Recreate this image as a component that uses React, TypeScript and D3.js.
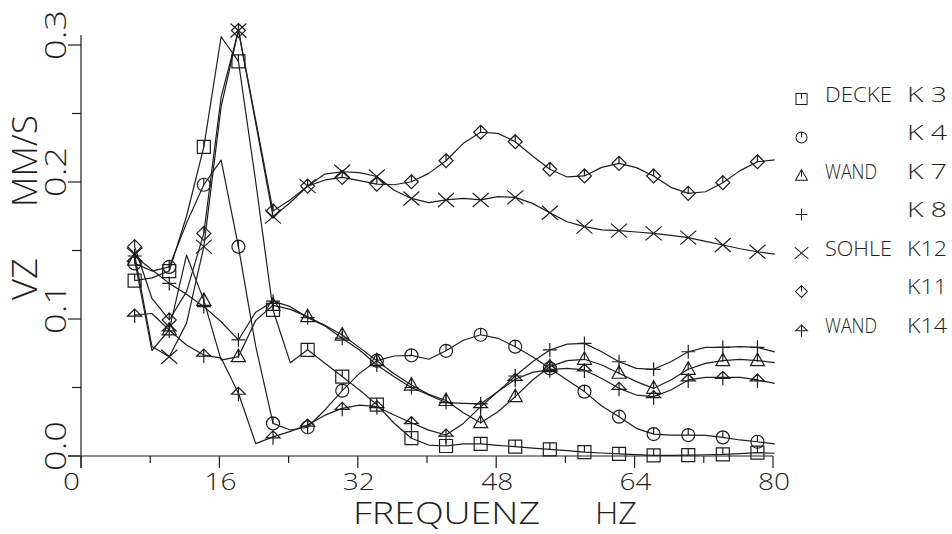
import React from "react";
import * as d3 from "d3";

// frequencies (Hz) of the plotted points (2 Hz steps; a symbol on every second point)
const FREQ = [6.2, 8.2, 10.2, 12.2, 14.2, 16.2, 18.2, 20.2, 22.2, 24.2, 26.2, 28.2, 30.2, 32.2, 34.2, 36.2, 38.2, 40.2, 42.2, 44.2, 46.2, 48.2, 50.2, 52.2, 54.2, 56.2, 58.2, 60.2, 62.2, 64.2, 66.2, 68.2, 70.2, 72.2, 74.2, 76.2, 78.2, 80.2];

// VZ (mm/s) per channel
const K3 = [0.128, 0.13, 0.135, 0.175, 0.2256, 0.306, 0.288, 0.2, 0.1066, 0.068, 0.0775, 0.0677, 0.058, 0.0482, 0.0375, 0.0239, 0.013, 0.008, 0.0073, 0.0088, 0.0088, 0.0078, 0.0068, 0.0058, 0.0049, 0.0039, 0.0029, 0.0022, 0.0015, 0.001, 0.0005, 0.0005, 0.0007, 0.0009, 0.0012, 0.0018, 0.0024, 0.002];
const K4 = [0.1406, 0.135, 0.138, 0.17, 0.198, 0.216, 0.1528, 0.08, 0.0238, 0.019, 0.021, 0.0336, 0.0477, 0.0603, 0.0696, 0.073, 0.0735, 0.0706, 0.0768, 0.0845, 0.0885, 0.0859, 0.0798, 0.0725, 0.064, 0.0555, 0.047, 0.0365, 0.0287, 0.0202, 0.016, 0.0153, 0.0153, 0.015, 0.0136, 0.0117, 0.0104, 0.0088];
const K7 = [0.143, 0.077, 0.092, 0.1467, 0.1136, 0.07, 0.0725, 0.099, 0.11, 0.107, 0.1017, 0.0955, 0.0883, 0.0791, 0.0696, 0.06, 0.0518, 0.045, 0.0405, 0.0316, 0.0243, 0.0323, 0.0433, 0.0555, 0.0652, 0.0696, 0.0706, 0.0664, 0.0604, 0.0543, 0.0494, 0.0555, 0.0633, 0.0676, 0.0696, 0.0706, 0.0696, 0.0681];
const K8 = [0.146, 0.136, 0.126, 0.118, 0.109, 0.098, 0.0847, 0.105, 0.113, 0.109, 0.101, 0.0949, 0.086, 0.0774, 0.0664, 0.0579, 0.05, 0.0445, 0.039, 0.0384, 0.038, 0.047, 0.0584, 0.0688, 0.0774, 0.0817, 0.0822, 0.0761, 0.0688, 0.064, 0.0633, 0.0688, 0.0761, 0.0793, 0.0793, 0.0798, 0.0793, 0.076];
const K12 = [0.147, 0.08, 0.0725, 0.097, 0.1528, 0.255, 0.3106, 0.243, 0.1747, 0.185, 0.197, 0.2058, 0.2075, 0.2068, 0.204, 0.194, 0.188, 0.185, 0.1869, 0.188, 0.1869, 0.1893, 0.1888, 0.1844, 0.1776, 0.171, 0.1674, 0.165, 0.1645, 0.1635, 0.1625, 0.161, 0.1594, 0.1567, 0.154, 0.1513, 0.1491, 0.1474];
const K11 = [0.1528, 0.115, 0.0993, 0.12, 0.1625, 0.262, 0.3106, 0.245, 0.1788, 0.187, 0.197, 0.2015, 0.2034, 0.201, 0.1985, 0.198, 0.2002, 0.2063, 0.2155, 0.2282, 0.2363, 0.2355, 0.2294, 0.219, 0.2093, 0.2037, 0.2044, 0.2107, 0.2136, 0.2105, 0.2044, 0.1961, 0.1917, 0.1929, 0.1995, 0.2083, 0.2148, 0.2161];
const K14 = [0.1029, 0.104, 0.092, 0.081, 0.0737, 0.0715, 0.0458, 0.009, 0.014, 0.018, 0.0226, 0.0298, 0.0348, 0.0372, 0.036, 0.0299, 0.0243, 0.0189, 0.0153, 0.0238, 0.036, 0.047, 0.056, 0.061, 0.063, 0.064, 0.0628, 0.0566, 0.0494, 0.0445, 0.0433, 0.0482, 0.0555, 0.0574, 0.0574, 0.0574, 0.0555, 0.053];

const SERIES_VALUES = [K3, K4, K7, K8, K12, K11, K14];
const SERIES_SYMBOL = ["square", "circle", "triangle", "plus", "x", "diamond", "arrow"];
const LEGEND_GROUP = ["DECKE", "", "WAND", "", "SOHLE", "", "WAND"];
const LEGEND_ID = ["K 3", "K 4", "K 7", "K 8", "K12", "K11", "K14"];

const X_TICKS = [0, 16, 32, 48, 64, 80];
const X_MINOR = [8, 24, 40, 56, 72];
const Y_TICKS = [0, 0.1, 0.2, 0.3];
const Y_LABELS = ["0.0", "0.1", "0.2", "0.3"];
const Y_MINOR = [0.05, 0.15, 0.25];

const INK = "#1e1e1e";
const FONT = "'Open Sans', 'DejaVu Sans', sans-serif";

function Symbol({ type, x, y, s = 1 }: { type: string; x: number; y: number; s?: number }) {
  let d = "";
  switch (type) {
    case "square":
      d = "M-6.5,-6.5H6.5V6.5H-6.5Z M0,-6.5V0";
      break;
    case "circle":
      d = "M-6.5,0A6.5,6.5 0 1,0 6.5,0A6.5,6.5 0 1,0 -6.5,0 M0,-6.5V0";
      break;
    case "triangle":
      d = "M0,-7.5L7,5H-7Z M0,-7.5V1";
      break;
    case "plus":
      d = "M-7,0H7 M0,-7V7";
      break;
    case "x":
      d = "M-8,-7L8,7 M-8,7L8,-7";
      break;
    case "diamond":
      d = "M0,-7L7,0L0,7L-7,0Z M0,-7V0";
      break;
    case "arrow":
      d = "M-7,1L0,-6L7,1Z M0,-6V8";
      break;
  }
  return (
    <path d={d} transform={`translate(${x},${y}) scale(${s})`} fill="none" stroke={INK} strokeWidth={1.2} />
  );
}

export default function App() {
  const W = 952;
  const H = 534;
  const x = d3.scaleLinear().domain([0, 80]).range([81, 773]);
  const y = d3.scaleLinear().domain([0, 0.3]).range([456, 45]);

  const line = d3
    .line<[number, number]>()
    .x((d) => x(d[0]))
    .y((d) => y(d[1]))
    .curve(d3.curveLinear);

  return (
    <svg width={W} height={H} style={{ position: "absolute", left: 0, top: 0, background: "#fff" }}>
      <rect width={W} height={H} fill="#fff" />
      {/* axes */}
      <g stroke={INK} strokeWidth={1.2} fill="none">
        <line x1={x(0) - 13} x2={x(80)} y1={y(0)} y2={y(0)} />
        <line x1={x(0)} x2={x(0)} y1={y(0) + 12} y2={y(0.3) - 10} />
        {X_TICKS.map((t) => (
          <line key={"xt" + t} x1={x(t)} x2={x(t)} y1={y(0)} y2={y(0) + 12} />
        ))}
        {X_MINOR.map((t) => (
          <line key={"xm" + t} x1={x(t)} x2={x(t)} y1={y(0)} y2={y(0) + 7} />
        ))}
        {Y_TICKS.map((t) => (
          <line key={"yt" + t} x1={x(0) - 13} x2={x(0)} y1={y(t)} y2={y(t)} />
        ))}
        {Y_MINOR.map((t) => (
          <line key={"ym" + t} x1={x(0) - 9} x2={x(0)} y1={y(t)} y2={y(t)} />
        ))}
      </g>

      {/* tick labels and titles */}
      <g fill={INK} fontFamily={FONT} fontWeight={300}>
        {X_TICKS.map((t) => (
          <text
            key={"xl" + t}
            x={t === 0 ? x(t) - 1 : x(t) + 1}
            y={490}
            fontSize={24}
            textAnchor={t === 0 ? "end" : "middle"}
            textLength={t === 0 ? 17 : 32}
            lengthAdjust="spacingAndGlyphs"
          >
            {String(t)}
          </text>
        ))}
        {Y_TICKS.map((t, i) => (
          <text
            key={"yl" + t}
            transform={`translate(66,${y(t) - 10}) rotate(-90)`}
            fontSize={30}
            textAnchor="middle"
            textLength={50}
            lengthAdjust="spacingAndGlyphs"
          >
            {Y_LABELS[i]}
          </text>
        ))}
        <text x={353} y={524} fontSize={31} textLength={187} lengthAdjust="spacingAndGlyphs">
          FREQUENZ
        </text>
        <text x={595} y={524} fontSize={31} textLength={42} lengthAdjust="spacingAndGlyphs">
          HZ
        </text>
        <text transform="translate(37,300) rotate(-90)" fontSize={34} textLength={42} lengthAdjust="spacingAndGlyphs">
          VZ
        </text>
        <text transform="translate(37,207) rotate(-90)" fontSize={34} textLength={92} lengthAdjust="spacingAndGlyphs">
          MM/S
        </text>
      </g>

      {/* curves */}
      <g fill="none" stroke={INK} strokeWidth={1.2} strokeLinejoin="round">
        {SERIES_VALUES.map((vals, i) => {
          const pts: [number, number][] = FREQ.map((f, j) => [f, vals[j]]);
          return <path key={"s" + i} d={line(pts) || ""} />;
        })}
      </g>

      {/* symbols on every second point */}
      {SERIES_VALUES.map((vals, i) =>
        FREQ.map((f, j) =>
          j % 2 === 0 ? <Symbol key={`m${i}-${j}`} type={SERIES_SYMBOL[i]} x={x(f)} y={y(vals[j])} /> : null
        )
      )}

      {/* legend */}
      <g fill={INK} fontFamily={FONT} fontWeight={300} fontSize={20}>
        {LEGEND_ID.map((id, i) => {
          const cy = 99 + i * 38.5;
          return (
            <g key={"lg" + i}>
              <Symbol type={SERIES_SYMBOL[i]} x={801.5} y={cy} s={0.85} />
              {LEGEND_GROUP[i] ? (
                <text
                  x={825}
                  y={cy + 2.5}
                  textLength={LEGEND_GROUP[i].length === 5 ? 67 : 52}
                  lengthAdjust="spacingAndGlyphs"
                >
                  {LEGEND_GROUP[i]}
                </text>
              ) : null}
              <text x={907} y={cy + 2.5} textLength={40} lengthAdjust="spacingAndGlyphs">
                {id}
              </text>
            </g>
          );
        })}
      </g>
    </svg>
  );
}
